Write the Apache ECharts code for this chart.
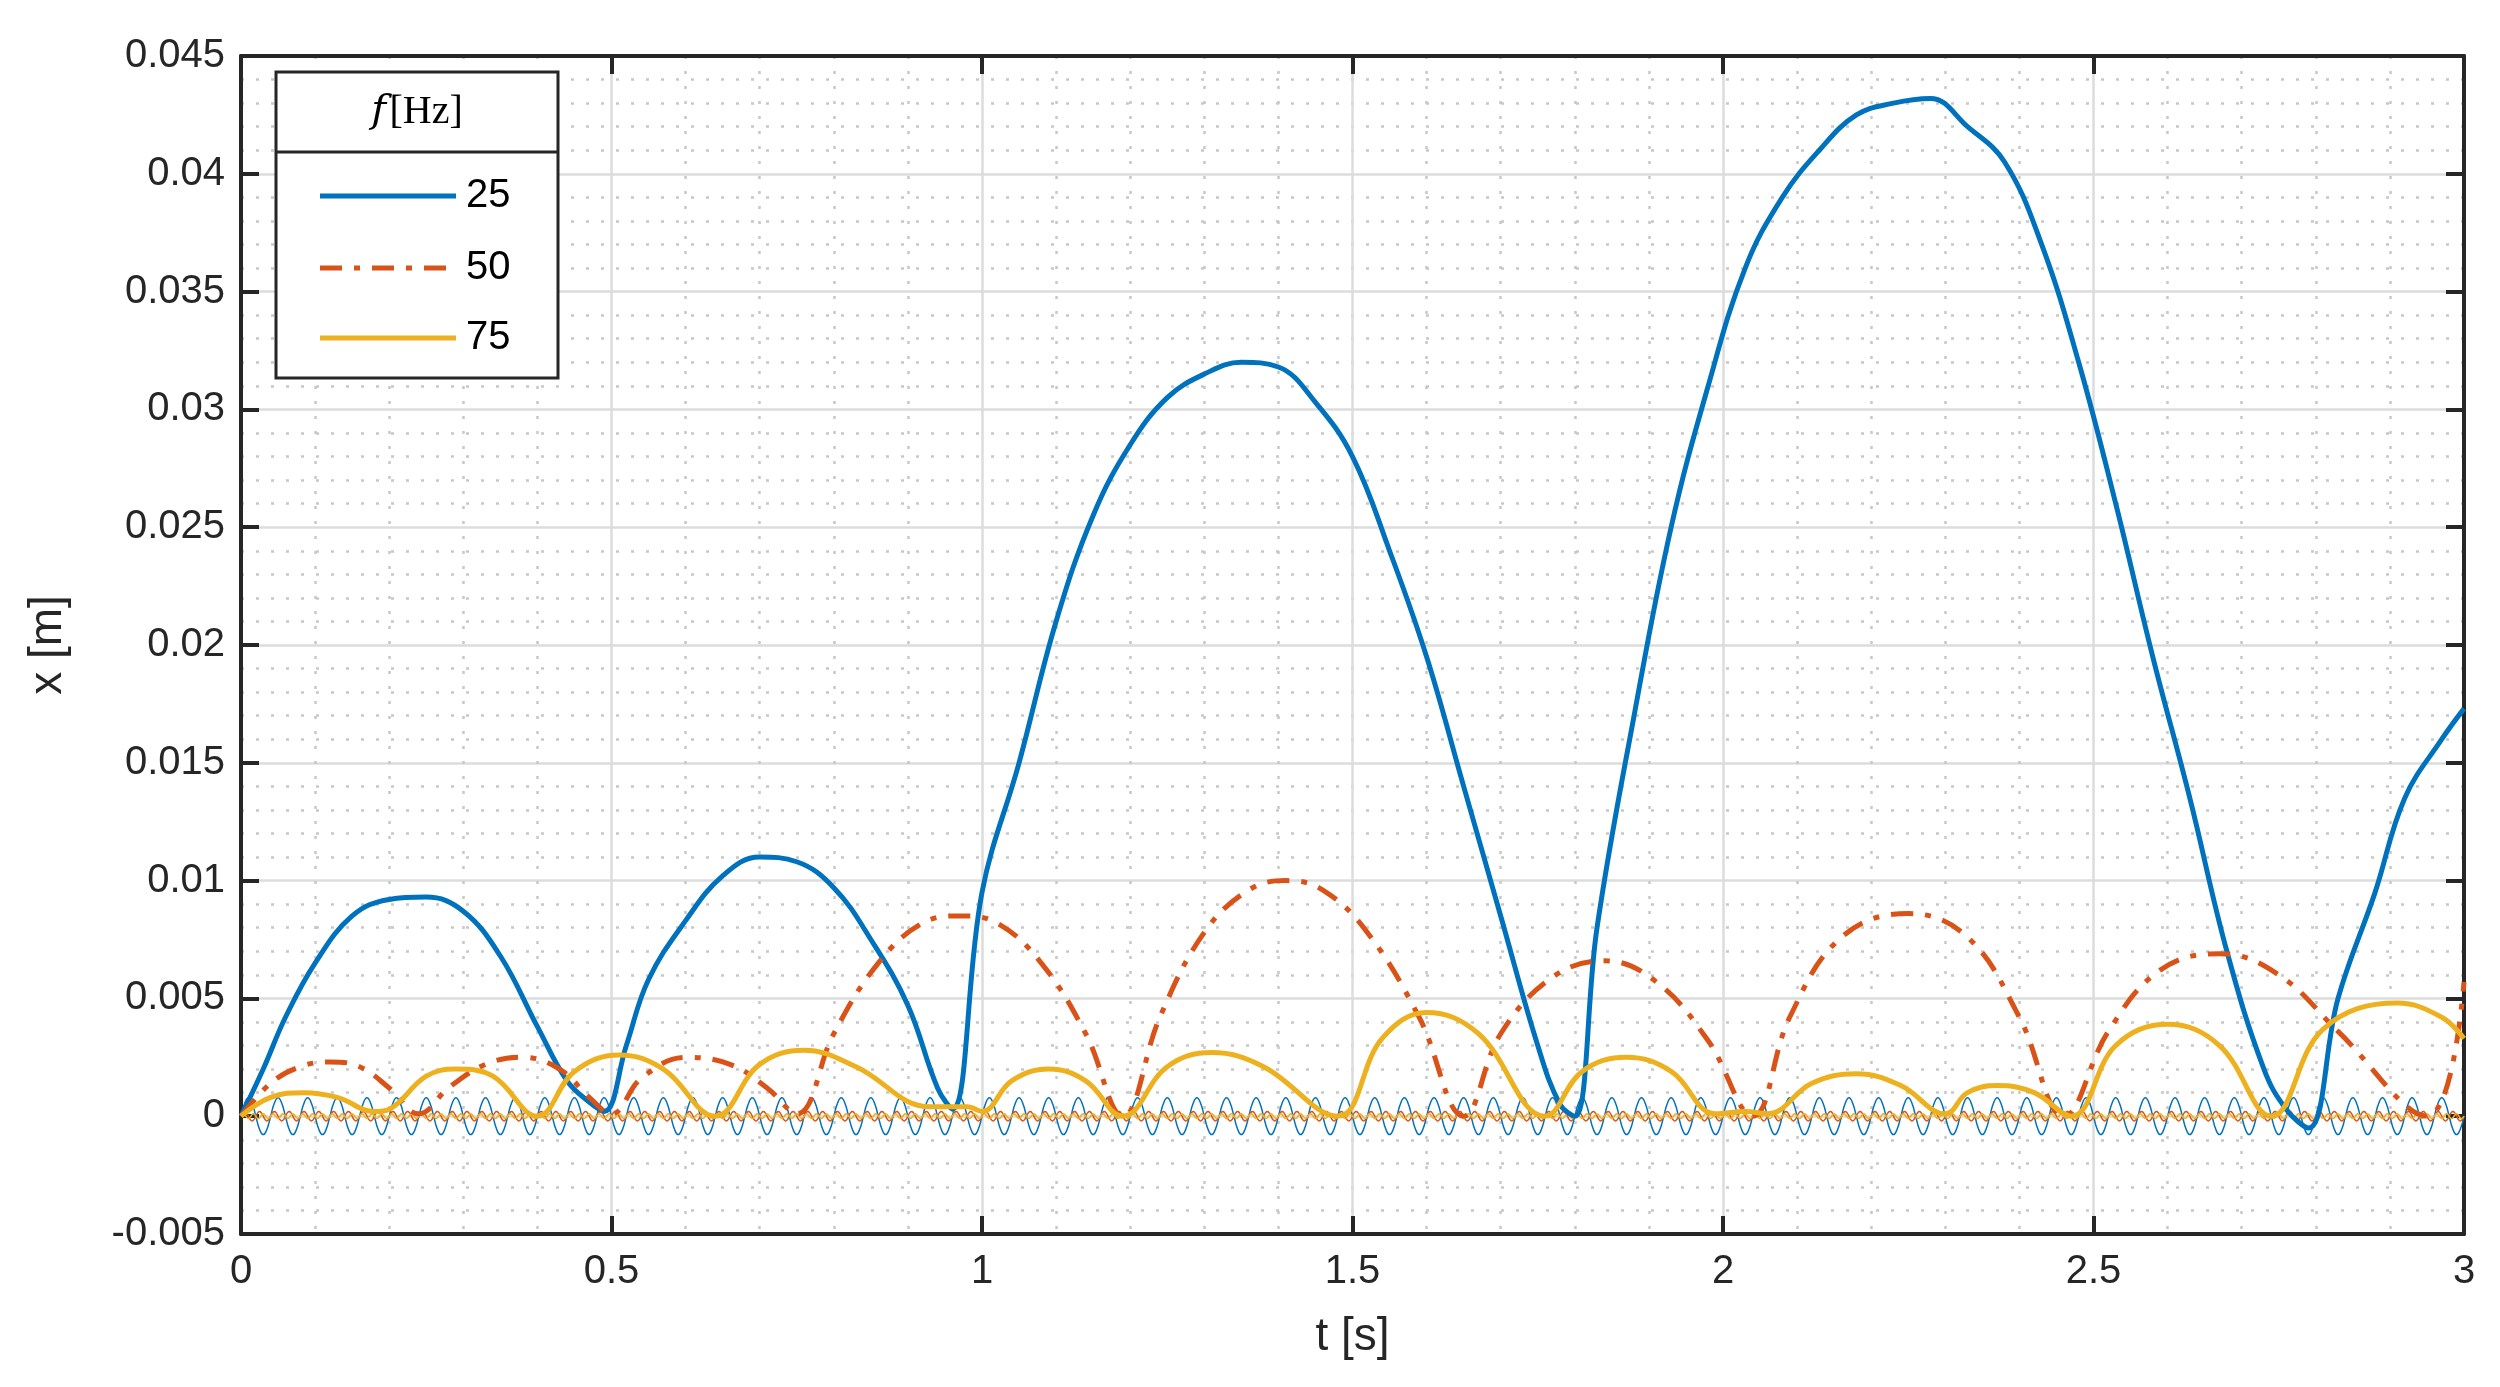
<!DOCTYPE html>
<html><head><meta charset="utf-8">
<script src="https://cdn.jsdelivr.net/npm/echarts@6/dist/echarts.min.js"></script>
<style>html,body{margin:0;padding:0;background:#fff}#c{width:2500px;height:1387px}</style>
</head><body><div id="c"></div>
<script>
const seriesNames = ['25', '50', '75'];
const colors = ['#0072BD', '#D95319', '#EDB120'];
const xTicks = [0, 0.5, 1, 1.5, 2, 2.5, 3];
const yTicks = [-0.005, 0, 0.005, 0.01, 0.015, 0.02, 0.025, 0.03, 0.035, 0.04, 0.045];

const blue = [[0,0],[0.03,0.002],[0.06,0.0042],[0.1,0.0065],[0.15,0.0085],[0.2,0.0092],[0.25,0.0093],[0.3,0.0087],[0.35,0.0068],[0.4,0.0038],[0.44,0.0015],[0.47,0.0006],[0.49,0.0002],
 [0.52,0.003],[0.55,0.0058],[0.6,0.0083],[0.65,0.0102],[0.7,0.011],[0.75,0.0108],[0.8,0.0097],[0.85,0.0075],[0.9,0.0047],[0.94,0.0012],[0.96,0.0003],
 [1.0,0.0095],[1.05,0.015],[1.1,0.021],[1.15,0.0255],[1.2,0.0285],[1.25,0.0305],[1.3,0.0315],[1.35,0.032],[1.4,0.0318],[1.45,0.0303],[1.5,0.028],[1.55,0.024],[1.6,0.0195],[1.65,0.014],[1.7,0.0085],[1.75,0.003],[1.78,0.0005],[1.8,0],
 [1.83,0.008],[1.88,0.017],[1.93,0.025],[1.98,0.031],[2.03,0.036],[2.08,0.039],[2.13,0.041],[2.18,0.0425],[2.23,0.043],[2.28,0.0432],[2.33,0.042],[2.38,0.0405],[2.43,0.037],[2.48,0.032],[2.53,0.026],[2.58,0.0195],[2.63,0.0135],[2.68,0.007],[2.73,0.002],[2.76,0.0003],[2.79,-0.0005],
 [2.83,0.005],[2.88,0.0095],[2.92,0.0135],[2.97,0.016],[3,0.0173]];
const orange = [[0,0],[0.04,0.0014],[0.08,0.0021],[0.12,0.0023],[0.16,0.0021],[0.2,0.0012],[0.24,0.0001],
 [0.28,0.0012],[0.33,0.0022],[0.38,0.0025],[0.43,0.002],[0.47,0.0008],[0.5,0.0001],
 [0.54,0.0016],[0.6,0.0025],[0.66,0.0022],[0.71,0.0012],[0.75,0.0001],
 [0.8,0.0035],[0.86,0.0065],[0.92,0.0082],[0.97,0.0085],[1.02,0.0082],[1.08,0.0065],[1.14,0.0035],[1.19,0],
 [1.24,0.0042],[1.3,0.0078],[1.36,0.0096],[1.41,0.01],[1.46,0.0096],[1.52,0.0078],[1.59,0.0042],[1.65,0],
 [1.7,0.0035],[1.77,0.0059],[1.84,0.0066],[1.91,0.0057],[1.98,0.0032],[2.04,0],
 [2.09,0.0042],[2.16,0.0076],[2.25,0.0086],[2.33,0.0076],[2.4,0.0042],[2.46,0],
 [2.52,0.0036],[2.59,0.0062],[2.67,0.0069],[2.75,0.006],[2.83,0.0036],[2.95,0],[3,0.0057]];
const yellow = [[0,0],[0.04,0.0008],[0.085,0.001],[0.13,0.0008],[0.18,0.0002],
 [0.2,0.0003],[0.25,0.0017],[0.29,0.002],[0.34,0.0017],[0.4,0],
 [0.45,0.0019],[0.51,0.0026],[0.57,0.002],[0.64,0],
 [0.7,0.0022],[0.76,0.0028],[0.83,0.0021],[0.93,0.0004],[0.98,0.0004],[1.0,0.0002],
 [1.04,0.0015],[1.09,0.002],[1.14,0.0015],[1.19,0],
 [1.25,0.0021],[1.31,0.0027],[1.38,0.0021],[1.48,0],
 [1.54,0.0033],[1.6,0.0044],[1.67,0.0035],[1.76,0],
 [1.81,0.0019],[1.87,0.0025],[1.93,0.0019],[1.99,0.0001],[2.03,0.0002],[2.06,0.0001],
 [2.12,0.0014],[2.18,0.0018],[2.24,0.0013],[2.3,0.0001],
 [2.33,0.001],[2.37,0.0013],[2.42,0.001],[2.47,0],
 [2.53,0.003],[2.6,0.0039],[2.67,0.003],[2.74,0],
 [2.81,0.0037],[2.91,0.0048],[2.97,0.0042],[3,0.0033]];
// one period of each thin oscillation, 8 samples per period
const thinCycle25 = [0, 0.00055, 0.00078, 0.00055, 0, -0.00055, -0.00078, -0.00055];
const thinCycle50 = [0, 0.00014, 0.0002, 0.00014, 0, -0.00014, -0.0002, -0.00014];
const thinCycle75 = [0, 0.00007, 0.0001, 0.00007, 0, -0.00007, -0.0001, -0.00007];
const thinPeriods = [0.04, 0.02, 0.013333];

function repeatCycle(cycle, period) {
  const out = []; const step = period / cycle.length;
  let i = 0;
  while (i * step <= 3.0001) { out.push([i * step, cycle[i % cycle.length]]); i++; }
  return out;
}

const chart = echarts.init(document.getElementById('c'));
const font = 'Liberation Sans, Arial, sans-serif';
const dark = '#262626';
const frameAxis = {axisLine: {show: true, onZero: false, lineStyle: {color: dark, width: 4}},
  axisTick: {show: true, inside: true, length: 18, lineStyle: {color: dark, width: 4}}, axisLabel: {show: false}, splitLine: {show: false}};
const grids = {
  splitLine: {show: true, lineStyle: {color: '#dcdcdc', width: 2.5}},
  minorSplitLine: {show: true, lineStyle: {color: '#c8c8c8', width: 2.5, type: [3, 12]}},
  minorTick: {show: false, splitNumber: 5}
};
const legendRows = [196, 268, 338];
const legendGraphics = [];
seriesNames.forEach((n, i) => {
  legendGraphics.push({type: 'line', z: 20, shape: {x1: 320, y1: legendRows[i], x2: 456, y2: legendRows[i]},
    style: {stroke: colors[i], lineWidth: 5, lineDash: i === 1 ? [22, 12, 6, 12] : null}});
  legendGraphics.push({type: 'text', z: 20, x: 466, y: legendRows[i], style: {text: n, fontSize: 40, fontFamily: font, fill: '#000', verticalAlign: 'middle'}});
});
chart.setOption({
  animation: false,
  grid: {left: 241, right: 36, top: 56, bottom: 153},
  xAxis: [
    Object.assign({type: 'value', min: 0, max: 3, interval: 0.5,
      name: 't [s]', nameLocation: 'middle', nameGap: 80, nameTextStyle: {fontSize: 46, fontFamily: font, color: dark},
      axisLine: {show: true, onZero: false, lineStyle: {color: dark, width: 4}},
      axisTick: {show: true, inside: true, length: 18, lineStyle: {color: dark, width: 4}},
      axisLabel: {fontSize: 40, fontFamily: font, color: dark, margin: 18}}, grids),
    Object.assign({type: 'value', min: 0, max: 3, interval: 0.5, position: 'top'}, frameAxis)
  ],
  yAxis: [
    Object.assign({type: 'value', min: -0.005, max: 0.045, interval: 0.005,
      name: 'x [m]', nameLocation: 'middle', nameGap: 170, nameTextStyle: {fontSize: 46, fontFamily: font, color: dark},
      axisLine: {show: true, onZero: false, lineStyle: {color: dark, width: 4}},
      axisTick: {show: true, inside: true, length: 18, lineStyle: {color: dark, width: 4}},
      axisLabel: {fontSize: 40, fontFamily: font, color: dark, margin: 16, formatter: v => String(Math.round(v * 1000) / 1000)}}, grids),
    Object.assign({type: 'value', min: -0.005, max: 0.045, interval: 0.005, position: 'right'}, frameAxis)
  ],
  graphic: [
    {type: 'rect', z: 15, shape: {x: 276, y: 72, width: 282, height: 306}, style: {fill: '#fff', stroke: dark, lineWidth: 3}},
    {type: 'line', z: 16, shape: {x1: 276, y1: 152, x2: 558, y2: 152}, style: {stroke: dark, lineWidth: 3}},
    {type: 'text', z: 16, x: 417, y: 112, style: {text: '{i|f} {r|[Hz]}', align: 'center', verticalAlign: 'middle',
      rich: {i: {fontFamily: 'DejaVu Serif, serif', fontStyle: 'italic', fontSize: 40, fill: '#000'}, r: {fontFamily: 'Liberation Serif, serif', fontSize: 40, fill: '#000'}}}}
  ].concat(legendGraphics),
  series: [
    {name: '25', type: 'line', data: blue, smooth: 0.4, showSymbol: false, lineStyle: {color: colors[0], width: 5}, itemStyle: {color: colors[0]}, z: 4},
    {name: '50', type: 'line', data: orange, smooth: 0.4, showSymbol: false, lineStyle: {color: colors[1], width: 5, type: [22, 12, 6, 12]}, itemStyle: {color: colors[1]}, z: 4},
    {name: '75', type: 'line', data: yellow, smooth: 0.4, showSymbol: false, lineStyle: {color: colors[2], width: 5}, itemStyle: {color: colors[2]}, z: 4},
    {name: 't25', type: 'line', data: repeatCycle(thinCycle25, thinPeriods[0]), smooth: true, showSymbol: false, lineStyle: {color: colors[0], width: 1.5}, z: 3},
    {name: 't50', type: 'line', data: repeatCycle(thinCycle50, thinPeriods[1]), smooth: true, showSymbol: false, lineStyle: {color: colors[1], width: 1.5}, z: 3},
    {name: 't75', type: 'line', data: repeatCycle(thinCycle75, thinPeriods[2]), smooth: true, showSymbol: false, lineStyle: {color: colors[2], width: 1.5}, z: 3}
  ]
});
</script></body></html>
